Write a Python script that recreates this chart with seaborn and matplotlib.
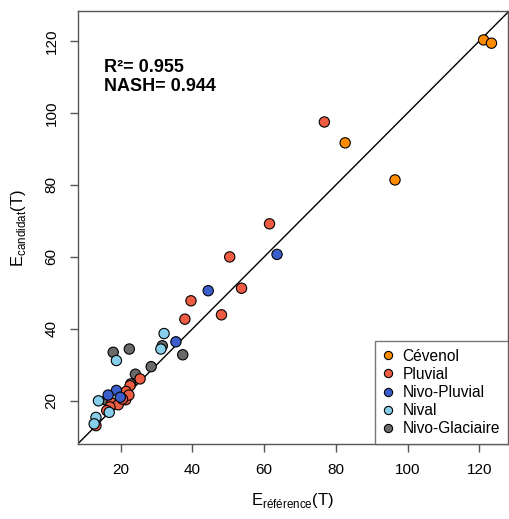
import pandas as pd
import seaborn as sns
import matplotlib.pyplot as plt

# values
cevenol_ref = [121.2, 123.4, 82.6, 96.5]
cevenol_cand = [120.3, 119.4, 91.7, 81.4]

pluvial_ref = [76.8, 61.5, 50.4, 53.7, 39.6, 37.9, 48.1, 25.4, 22.6, 21.5,
               21.4, 17.5, 19.3, 17.0, 16.1, 13.1, 22.3, 20.5]
pluvial_cand = [97.5, 69.2, 60.0, 51.3, 47.8, 42.7, 43.9, 26.1, 24.2, 22.6,
                20.3, 19.4, 18.9, 18.3, 17.3, 13.1, 21.6, 20.5]

nivopluvial_ref = [63.6, 44.4, 35.4, 18.8, 16.5, 19.9]
nivopluvial_cand = [60.7, 50.6, 36.4, 22.9, 21.6, 21.0]

nival_ref = [32.1, 31.2, 18.8, 13.8, 16.8, 13.1, 12.6]
nival_cand = [38.7, 34.4, 31.2, 20.0, 16.8, 15.4, 13.6]

glaciaire_ref = [17.9, 22.4, 31.6, 37.3, 28.5, 24.1, 22.8, 21.2, 16.1]
glaciaire_cand = [33.5, 34.4, 35.3, 32.8, 29.5, 27.4, 24.7, 21.2, 20.1]

regimes = ["Cévenol", "Pluvial", "Nivo-Pluvial", "Nival", "Nivo-Glaciaire"]
colors = ["#FF8C00", "#EE5C42", "#3A5FCD", "#87CEEB", "#696969"]

r2_text = "R²= 0.955"
nash_text = "NASH= 0.944"

frames = []
for name, xs, ys in [("Nivo-Glaciaire", glaciaire_ref, glaciaire_cand),
                     ("Pluvial", pluvial_ref, pluvial_cand),
                     ("Nivo-Pluvial", nivopluvial_ref, nivopluvial_cand),
                     ("Nival", nival_ref, nival_cand),
                     ("Cévenol", cevenol_ref, cevenol_cand)]:
    frames.append(pd.DataFrame({"ref": xs, "cand": ys, "regime": name}))
df = pd.concat(frames, ignore_index=True)

sns.set_style("ticks")
plt.rcParams["font.family"] = ["Liberation Sans", "DejaVu Sans"]
plt.rcParams["mathtext.fontset"] = "custom"
plt.rcParams["mathtext.rm"] = "Liberation Sans"
plt.rcParams["text.color"] = "black"
plt.rcParams["axes.labelcolor"] = "black"

fig = plt.figure(figsize=(5.10, 5.19), dpi=100)
ax = fig.add_axes([0.153, 0.1445, 0.843, 0.834])

ax.axline((0, 0), slope=1, color="black", lw=1, zorder=1)
sns.scatterplot(data=df, x="ref", y="cand", hue="regime", hue_order=regimes,
                palette=colors, s=55, edgecolor="black", linewidth=0.8,
                ax=ax, zorder=3)

ax.set_xlim(8.1, 128.0)
ax.set_ylim(8.0, 128.3)
ax.set_xticks([20, 40, 60, 80, 100, 120])
ax.set_yticks([20, 40, 60, 80, 100, 120])
ax.tick_params(length=6, width=1, color="#555555", labelcolor="black",
               labelsize=11, pad=8)
for lab in ax.get_yticklabels():
    lab.set_rotation(90)
    lab.set_va("center")
for sp in ax.spines.values():
    sp.set_visible(True)
    sp.set_color("#555555")
    sp.set_linewidth(1)

ax.set_xlabel(r"E$_{\mathrm{référence}}$(T)", fontsize=12, labelpad=10)
ax.set_ylabel(r"E$_{\mathrm{candidat}}$(T)", fontsize=12, labelpad=12)

ax.text(0.06, 0.869, r2_text, transform=ax.transAxes, fontsize=13,
        fontweight="bold", va="center")
ax.text(0.06, 0.825, nash_text, transform=ax.transAxes, fontsize=13,
        fontweight="bold", va="center")

sns.move_legend(ax, "lower right", title=None, frameon=True, fancybox=False,
                borderaxespad=0, fontsize=11.2, handlelength=0.6,
                handletextpad=0.65, labelspacing=0.2, borderpad=0.5,
                markerscale=0.8)
leg = ax.get_legend()
leg.get_frame().set_edgecolor("#555555")
leg.get_frame().set_linewidth(1)

fig.savefig("out.png", dpi=100)
